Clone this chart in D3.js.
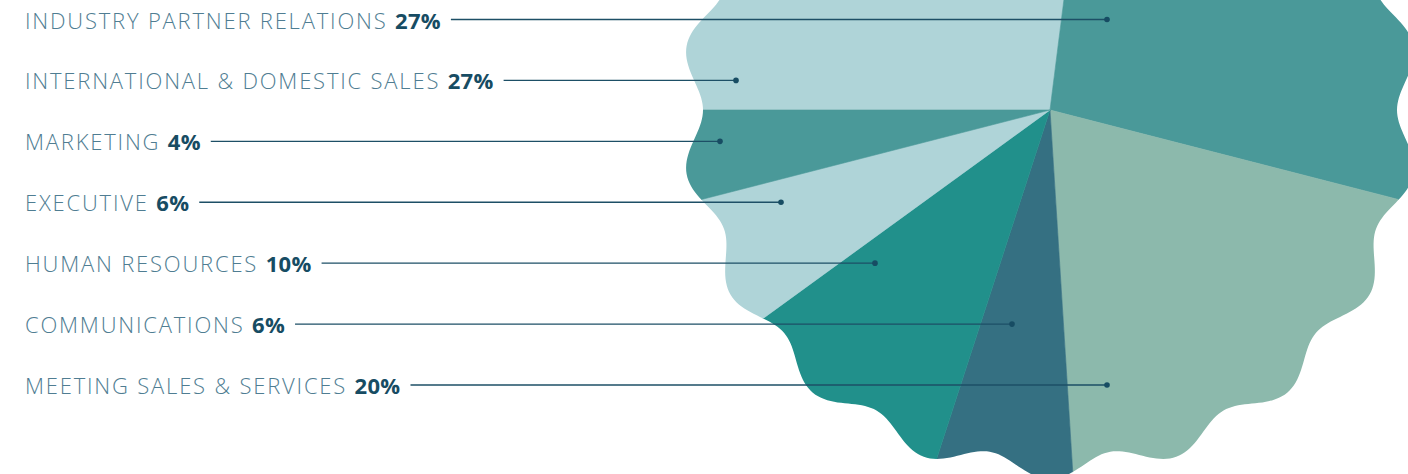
<!DOCTYPE html>
<html>
<head>
<meta charset="utf-8">
<script src="https://cdn.jsdelivr.net/npm/d3@7"></script>
<style>
  body { margin: 0; background: #fff; }
  svg { display: block; }
  .name { font-family: "Open Sans", sans-serif; font-weight: 300; fill: #4f7d92; letter-spacing: 1.8px; }
  .pct { font-family: "Open Sans", sans-serif; font-weight: 700; fill: #174c63; letter-spacing: 0.3px; }
</style>
</head>
<body>
<script>
// slices in clockwise order, starting at 9 o'clock
const categories = ['International & Domestic Sales', 'Industry Partner Relations', 'Meeting Sales & Services',
  'Communications', 'Human Resources', 'Executive', 'Marketing'];
const shares = [27, 27, 20, 6, 10, 6, 4];

// legend rows, top to bottom
const labelOrder = ['Industry Partner Relations', 'International & Domestic Sales', 'Marketing',
  'Executive', 'Human Resources', 'Communications', 'Meeting Sales & Services'];

// where each leader line ends inside its slice (layout only)
const pointerX = [1107, 736, 720, 781, 875, 1012, 1107];

const palette = ['#afd4d8', '#4a9999', '#8cb9ac', '#357082', '#21908b', '#afd4d8', '#4a9999'];

const width = 1408, height = 474;
const cx = 1050, cy = 110;

const svg = d3.select('body').append('svg')
  .attr('width', width)
  .attr('height', height);

const color = d3.scaleOrdinal().domain(categories).range(palette);

// scalloped outline: 18 waves around the circle
const R = 358, A = 11, waves = 18;
const deg = Math.PI / 180;
const outline = d3.range(0, 360, 0.5).map(t => [t * deg, R + A * Math.cos(waves * t * deg)]);

svg.append('clipPath')
  .attr('id', 'wavy')
  .append('path')
  .attr('transform', `translate(${cx},${cy})`)
  .attr('d', d3.lineRadial().curve(d3.curveLinearClosed)(outline));

const pie = d3.pie()
  .sort(null)
  .startAngle(-Math.PI / 2)
  .endAngle(Math.PI * 1.5);

const arc = d3.arc().innerRadius(0).outerRadius(420);

svg.append('g')
  .attr('clip-path', 'url(#wavy)')
  .append('g')
  .attr('transform', `translate(${cx},${cy})`)
  .selectAll('path')
  .data(pie(shares))
  .enter()
  .append('path')
  .attr('d', arc)
  .attr('fill', (d, i) => color(categories[i]))
  .attr('stroke', (d, i) => color(categories[i]))
  .attr('stroke-width', 0.6);

// labels
const y = d3.scalePoint().domain(labelOrder).range([28.5, 394]);

const rows = svg.append('g').selectAll('g')
  .data(labelOrder)
  .enter()
  .append('g');

const label = rows.append('text')
  .attr('x', 25)
  .attr('y', d => y(d))
  .style('font-size', '22px');

label.append('tspan')
  .attr('class', 'name')
  .text(d => d.toUpperCase() + ' ');

label.append('tspan')
  .attr('class', 'pct')
  .text(d => shares[categories.indexOf(d)] + '%');

rows.each(function(d, i) {
  const g = d3.select(this);
  const textEnd = 25 + g.select('text').node().getComputedTextLength();
  const ly = y(d) - 9;
  g.append('line')
    .attr('x1', textEnd + 10)
    .attr('x2', pointerX[i])
    .attr('y1', ly)
    .attr('y2', ly)
    .attr('stroke', '#1d4f66')
    .attr('stroke-width', 1.3);
  g.append('circle')
    .attr('cx', pointerX[i])
    .attr('cy', ly)
    .attr('r', 2.8)
    .attr('fill', '#174c63');
});
</script>
</body>
</html>
